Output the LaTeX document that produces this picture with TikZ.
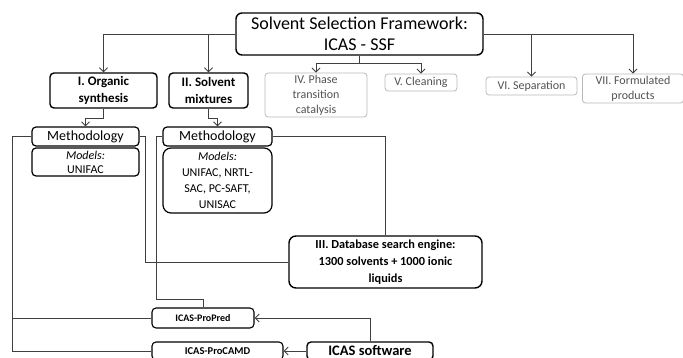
\documentclass[tikz,border=0pt]{standalone}
\usepackage{fontspec}
\setmainfont{Carlito}
\usetikzlibrary{arrows.meta,calc}
\begin{document}
\begin{tikzpicture}[x=1pt,y=-1pt,
                    box/.style={draw,rounded corners=4pt,line width=1.4pt,align=center,inner sep=0pt},
                    gbox/.style={draw=black!28,rounded corners=3pt,line width=0.8pt,text=black!68,
                      align=center,inner sep=0pt,font=\fontsize{12}{15}\selectfont},
                    bfont/.style={font=\bfseries\fontsize{13}{17}\selectfont},
                    con/.style={draw=black!75,line width=0.9pt},
                    arr/.style={con,-{Straight Barb[length=4pt,width=8pt]}}
                  ]
  \useasboundingbox (0,0) rectangle (683,358);
  \clip (0,0) rectangle (683,358);

  % framework and its branches
  \node[box,minimum width=247,minimum height=42,rounded corners=6pt,
        font=\fontsize{18}{21}\selectfont] (ssf) at (359.5,34)
        {Solvent Selection Framework:\\ICAS - SSF};
  \node[box,bfont,minimum width=107,minimum height=35] (org) at (103.5,90.5) {I. Organic\\synthesis};
  \node[box,bfont,minimum width=79,minimum height=35] (mix) at (208.5,90.5) {II. Solvent\\mixtures};
  \node[gbox,minimum width=102,minimum height=44] (ptc) at (316,95) {IV. Phase\\transition\\catalysis};
  \node[gbox,minimum width=72,minimum height=17] (cln) at (421,82.5) {V. Cleaning};
  \node[gbox,minimum width=91,minimum height=18] (sep) at (531.5,86) {VI. Separation};
  \node[gbox,minimum width=101,minimum height=29] (frm) at (633,88.5) {VII. Formulated\\products};

  \foreach \b in {org,mix} \draw[arr] (ssf.west) -| (\b.north);
  \foreach \b in {sep,frm} \draw[arr] (ssf.east) -| (\b.north);
  \draw[con] (ssf.south) -- ++(0,8) coordinate (fork);
  \foreach \b in {ptc,cln} \draw[arr] (fork) -| (\b.north);

  % methodology and models
  \node[box,line width=1.2pt,minimum width=107,minimum height=19,font=\fontsize{14}{16}\selectfont] (met1) at (85.5,136.5) {Methodology};
  \node[box,line width=1.2pt,minimum width=107,minimum height=28,font=\fontsize{12}{14}\selectfont] (mod1) at (85.5,162) {\textit{Models:}\\UNIFAC};
  \node[box,line width=1.2pt,minimum width=109,minimum height=19,font=\fontsize{14}{16}\selectfont] (met2) at (217.5,136.5) {Methodology};
  \node[box,line width=1.2pt,minimum width=109,minimum height=65,rounded corners=8pt,font=\fontsize{12}{16}\selectfont] (mod2) at (217.5,180.5)
        {\textit{Models:}\\UNIFAC, NRTL-\\SAC, PC-SAFT,\\UNISAC};
  \draw[arr] (org.south) -- ++(0,10) -| (met1.north);
  \draw[arr] (mix.south) -- ++(0,10) -| (met2.north);

  % database and ICAS tools
  \node[box,minimum width=193,minimum height=52,rounded corners=7pt,font=\bfseries\fontsize{12.3}{17}\selectfont] (db) at (385.5,262)
        {III. Database search engine:\\1300 solvents + 1000 ionic\\liquids};
  \node[box,line width=1.1pt,minimum width=102,minimum height=20,font=\bfseries\fontsize{10}{12}\selectfont] (ppred) at (203,318) {ICAS-ProPred};
  \node[box,line width=1.1pt,minimum width=131,minimum height=18,font=\bfseries\fontsize{10.5}{12}\selectfont] (pcamd) at (217.5,351) {ICAS-ProCAMD};
  \node[box,minimum width=126,minimum height=18,font=\bfseries\fontsize{14.5}{15}\selectfont] (icas) at (370,351) {ICAS software};

  \draw[con] (met2.east) -| (db.north);
  \draw[con] (met1.east) -- ++(6,0) |- (db.west);
  \draw[con] (met2.west) -- ++(-6,0) |- ($(ppred.north)+(0,-8)$) -- (ppred.north);
  \draw[con] (met1.west) -- ++(-19,0) coordinate (lft) |- (pcamd.west);
  \draw[con] (lft |- ppred.west) -- (ppred.west);
  \draw[arr] (icas.north) |- (ppred.east);
  \draw[arr] (icas.west) -- (pcamd.east);
\end{tikzpicture}
\end{document}
